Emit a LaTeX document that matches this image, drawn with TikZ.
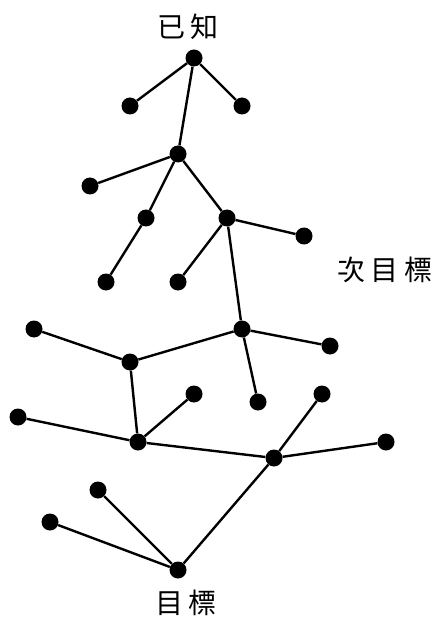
\documentclass[tikz,border=0pt]{standalone}
\usepackage{fontspec}
\newfontfamily\cjk{Noto Sans CJK TC}
\usepackage{tikz}
\usetikzlibrary{positioning}

\begin{document}
\begin{tikzpicture}[x=1pt, y=-1pt, dot/.style = {circle, fill=black, minimum size=17pt, inner sep=0pt}, every edge/.append style={line width=2.4pt}, lbl/.style={font=\cjk\fontsize{28}{30}\selectfont, inner sep=0pt}]
\useasboundingbox (0,0) rectangle (445,617);

% top part
\node[dot] (A) at (194,58) {};
\node[dot] (a1) at (130,106) {};
\node[dot] (a2) at (242,106) {};
\node[dot] (B) at (178,154) {};
\node[dot] (b1) at (90,186) {};
\node[dot] (C) at (146,218) {};
\node[dot] (D) at (227,218) {};
\node[dot] (d1) at (304,236) {};
\node[dot] (c1) at (106,282) {};
\node[dot] (d2) at (178,282) {};

% middle part
\node[dot] (E) at (242,329) {};
\node[dot] (e1) at (330,346) {};
\node[dot] (e2) at (258,402) {};
\node[dot] (F) at (130,362) {};
\node[dot] (f1) at (34,329) {};
\node[dot] (G) at (138,442) {};
\node[dot] (g1) at (194,394) {};
\node[dot] (g2) at (18,417) {};
\node[dot] (H) at (274,458) {};
\node[dot] (h1) at (322,394) {};
\node[dot] (h2) at (386,442) {};

% bottom part
\node[dot] (I) at (178,570) {};
\node[dot] (i1) at (98,490) {};
\node[dot] (i2) at (50,522) {};

\node[lbl] (known) at (188,27) {已\hspace{6pt}知};
\node[lbl] (sub) at (385,270) {次\hspace{6pt}目\hspace{6pt}標};
\node[lbl] (goal) at (186,603) {目\hspace{6pt}標};

\path
 (A) edge (a1)
 (A) edge (a2)
 (A) edge (B)
 (B) edge (b1)
 (B) edge (C)
 (B) edge (D)
 (C) edge (c1)
 (D) edge (d2)
 (D) edge (d1)
 (D) edge (E)
 (E) edge (e1)
 (E) edge (e2)
 (E) edge (F)
 (F) edge (f1)
 (F) edge (G)
 (G) edge (g1)
 (G) edge (g2)
 (G) edge (H)
 (H) edge (h1)
 (H) edge (h2)
 (H) edge (I)
 (I) edge (i1)
 (I) edge (i2);
\end{tikzpicture}
\end{document}
